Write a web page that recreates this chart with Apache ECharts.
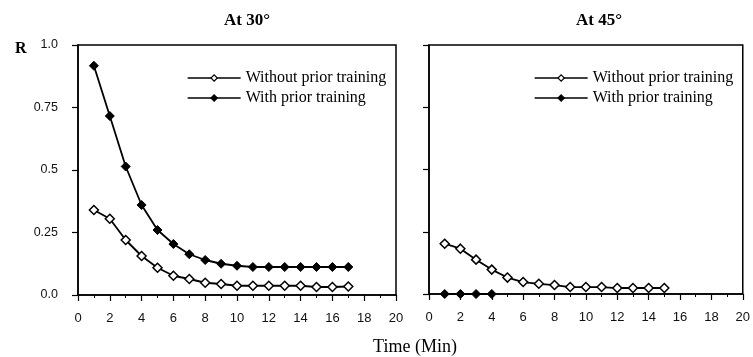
<!DOCTYPE html>
<html><head><meta charset="utf-8">
<script src="https://cdn.jsdelivr.net/npm/echarts@6/dist/echarts.min.js"></script>
<style>html,body{margin:0;padding:0;background:#fff}#c{width:753px;height:357px}</style>
</head><body><div id="c"></div>
<script>
const xLeft = [1,2,3,4,5,6,7,8,9,10,11,12,13,14,15,16,17];
const left_without = [0.34,0.305,0.22,0.156,0.109,0.077,0.064,0.049,0.044,0.037,0.037,0.037,0.037,0.037,0.032,0.032,0.034];
const left_with = [0.917,0.716,0.514,0.36,0.26,0.204,0.163,0.14,0.125,0.117,0.112,0.112,0.112,0.112,0.112,0.112,0.112];
const xRight_without = [1,2,3,4,5,6,7,8,9,10,11,12,13,14,15];
const right_without = [0.202,0.182,0.138,0.098,0.066,0.048,0.041,0.036,0.028,0.028,0.028,0.024,0.024,0.024,0.024];
const xRight_with = [1,2,3,4];
const right_with = [0,0,0,0];
const yTickLabels = {'0':'0.0','0.25':'0.25','0.5':'0.5','0.75':'0.75','1':'1.0'};
const titles = ['At 30°','At 45°'];
const seriesNames = ['Without prior training','With prior training'];

const zip = (xs, ys) => xs.map((x,i)=>[x, ys[i]]);
const serif = 'Liberation Serif';
const sans = 'Liberation Sans';

function xAxis(gi){
  return {type:'value', gridIndex:gi, min:0, max:20, interval:2,
    axisLine:{show:true,onZero:false,lineStyle:{color:'#000',width:1.5}},
    axisTick:{show:true,length:6,lineStyle:{color:'#000',width:1.2}},
    minorTick:{show:true,splitNumber:2,length:3,lineStyle:{color:'#000',width:1}},
    splitLine:{show:false},
    axisLabel:{show:true,margin:17,color:'#111',fontFamily:sans,fontSize:13}};
}
function yAxis(gi, showLabel){
  return {type:'value', gridIndex:gi, min:0, max:1, interval:0.25,
    axisLine:{show:true,lineStyle:{color:'#000',width:1.5}},
    axisTick:{show:true,length:6,lineStyle:{color:'#000',width:1.2}},
    splitLine:{show:false},
    axisLabel:{show:showLabel,margin:20,color:'#111',fontFamily:sans,fontSize:12.5,
      formatter:v=>yTickLabels[String(v)]}};
}
const openStyle = {color:'#fff',borderColor:'#000',borderWidth:1.5};
const fillStyle = {color:'#000',borderColor:'#000',borderWidth:1};
function ser(name, gi, data, open){
  return {name, type:'line', xAxisIndex:gi, yAxisIndex:gi, data,
    symbol:'diamond', symbolSize:9, showAllSymbol:true,
    lineStyle:{color:'#000',width:1.8}, itemStyle: open?openStyle:fillStyle,
    emphasis:{disabled:true}, animation:false};
}
function legend(left){
  return {left, top:65, orient:'vertical', itemWidth:53, itemHeight:8, itemGap:4, itemTextGap:10,
    data:seriesNames, selectedMode:false,
    itemStyle:{borderWidth:1.2},
    lineStyle:{width:1.3},
    textStyle:{fontFamily:serif,fontSize:16,color:'#000'}};
}
const chart = echarts.init(document.getElementById('c'));
chart.setOption({
  animation:false,
  backgroundColor:'#fff',
  title:[
    {text:titles[0], left:242, top:7, textAlign:'center', textStyle:{fontFamily:serif,fontSize:17,fontWeight:'bold',color:'#000'}},
    {text:titles[1], left:594, top:7, textAlign:'center', textStyle:{fontFamily:serif,fontSize:17,fontWeight:'bold',color:'#000'}},
    {text:'R', left:10, top:36, textStyle:{fontFamily:serif,fontSize:16,fontWeight:'bold',color:'#000'}},
    {text:'Time (Min)', left:410, top:333, textAlign:'center', textStyle:{fontFamily:serif,fontSize:18,fontWeight:'normal',color:'#000'}}
  ],
  legend:[legend(182), legend(529)],
  grid:[
    {left:78, right:357, top:45, bottom:62, show:true, borderColor:'#000', borderWidth:1.5, backgroundColor:'transparent'},
    {left:429, right:8, top:45, bottom:63, show:true, borderColor:'#000', borderWidth:1.5, backgroundColor:'transparent'}
  ],
  xAxis:[xAxis(0), xAxis(1)],
  yAxis:[yAxis(0,true), yAxis(1,false)],
  series:[
    ser(seriesNames[0],0,zip(xLeft,left_without),true),
    ser(seriesNames[1],0,zip(xLeft,left_with),false),
    ser(seriesNames[0],1,zip(xRight_without,right_without),true),
    ser(seriesNames[1],1,zip(xRight_with,right_with),false)
  ]
});
</script></body></html>
